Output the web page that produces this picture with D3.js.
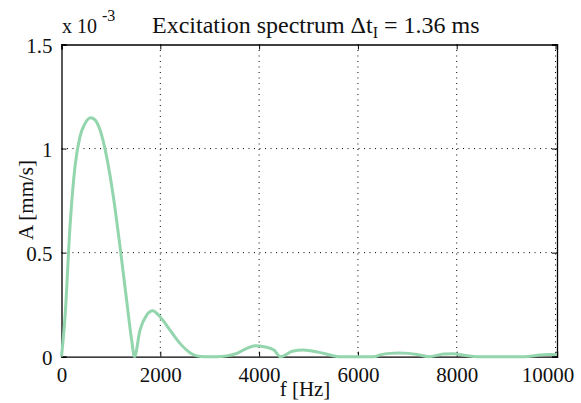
<!DOCTYPE html>
<html><head><meta charset="utf-8">
<script src="https://cdn.jsdelivr.net/npm/d3@7"></script>
</head><body style="margin:0">
<script>
const freqs = [0, 71, 172, 273, 374, 476, 590, 678, 779, 914, 1049, 1184, 1319, 1420, 1478,
  1589, 1724, 1845, 1994, 2196, 2399, 2601, 2736, 2900, 3141, 3350, 3551, 3750, 3925, 4100, 4300, 4430,
  4673, 4897, 5196, 5495, 5600, 6000, 6318, 6467, 6650, 6841, 7030, 7215, 7439, 7738, 7925, 8187, 8411,
  9000, 9383, 9607, 9832, 10030];
const amps = [0, 0.19, 0.625, 0.913, 1.057, 1.12, 1.148, 1.138, 1.09, 0.96, 0.77, 0.53, 0.27, 0.08, 0.0,
  0.128, 0.2, 0.221, 0.192, 0.128, 0.064, 0.019, 0.004, 0.0, 0.0, 0.004, 0.016, 0.04, 0.053, 0.048, 0.032, 0.0,
  0.026, 0.032, 0.022, 0.005, 0.0, 0.0, 0.0, 0.01, 0.016, 0.018, 0.016, 0.01, 0.0, 0.013, 0.014, 0.006, 0.0,
  0.0, 0.0, 0.006, 0.011, 0.01];
const xTicks = [0, 2000, 4000, 6000, 8000, 10000];
const yTicks = [0, 0.5, 1, 1.5];
const yTickLabels = ["0", "0.5", "1", "1.5"];

const W = 581, H = 403;
const L = 61.5, R = 557, T = 44.5, B = 356.7;
const FF = '"Liberation Serif"';

const svg = d3.select("body").append("svg").attr("width", W).attr("height", H)
  .style("font-family", FF).style("display", "block");
const x = d3.scaleLinear().domain([0, 10030]).range([L, R]);
const y = d3.scaleLinear().domain([0, 1.5]).range([B, T]);

// grid
const g = svg.append("g");
g.selectAll(".gx").data(xTicks.filter(d => d > 0 && d < 10030)).join("line")
  .attr("x1", d => x(d)).attr("x2", d => x(d)).attr("y1", T).attr("y2", B)
  .attr("stroke", "#000").attr("stroke-width", 1).attr("stroke-dasharray", "1,4.5");
g.selectAll(".gy").data(yTicks.filter(d => d > 0 && d < 1.5)).join("line")
  .attr("x1", L).attr("x2", R).attr("y1", d => y(d)).attr("y2", d => y(d))
  .attr("stroke", "#000").attr("stroke-width", 1).attr("stroke-dasharray", "1,4.5");

// axes (ticks inward)
const ax = d3.axisBottom(x).tickValues(xTicks).tickSize(-5).tickPadding(10).tickFormat(d3.format("d"));
const axG = svg.append("g").attr("transform", `translate(0,${B})`).call(ax);
const axTop = svg.append("g").attr("transform", `translate(0,${T})`).call(d3.axisTop(x).tickValues(xTicks).tickSize(-5).tickFormat(""));
const ay = d3.axisLeft(y).tickValues(yTicks).tickSize(-5).tickPadding(9).tickFormat((d, i) => yTickLabels[i]);
const ayG = svg.append("g").attr("transform", `translate(${L},0)`).call(ay);
const ayR = svg.append("g").attr("transform", `translate(${R},0)`).call(d3.axisRight(y).tickValues(yTicks).tickSize(-5).tickFormat(""));
[axG, axTop, ayG, ayR].forEach(a => {
  a.attr("font-family", null).attr("font-size", null);
  a.select(".domain").attr("stroke", "#000").attr("stroke-width", 1.3);
  a.selectAll(".tick line").attr("stroke", "#000");
  a.selectAll("text").style("font-family", FF).style("font-size", "21px").attr("fill", "#111");
});
axG.selectAll(".tick text").attr("dy", "0.71em");
ayG.selectAll(".tick text").attr("dy", "0.36em");
axG.selectAll(".tick text").filter(d => d === 10000).attr("dx", -8);

// curve (drawn over the axes, as in the reference)
const line = d3.line().x((d, i) => x(freqs[i])).y(d => y(d)).curve(d3.curveMonotoneX);
svg.append("path").datum(amps).attr("d", line)
  .attr("fill", "none").attr("stroke", "#93d5ad").attr("stroke-width", 3)
  .attr("stroke-linejoin", "round");

function txt(sel) { return sel.style("font-family", FF).attr("fill", "#111"); }

// labels
txt(svg.append("text")).attr("x", 305).attr("y", 396).attr("text-anchor", "middle")
  .style("font-size", "21px").text("f [Hz]");
txt(svg.append("text")).attr("transform", `translate(33,200) rotate(-90)`).attr("text-anchor", "middle")
  .style("font-size", "21px").text("A [mm/s]");

const ex = txt(svg.append("text")).attr("x", 62).attr("y", 33).style("font-size", "20px");
ex.append("tspan").text("x 10");
ex.append("tspan").attr("dx", 5).attr("dy", -12).style("font-size", "16px").text("-3");

const title = txt(svg.append("text")).attr("x", 152).attr("y", 33).style("font-size", "24px");
title.append("tspan").text("Excitation spectrum \u0394t");
title.append("tspan").attr("dy", 5).style("font-size", "16px").text("I");
title.append("tspan").attr("dy", -5).text(" = 1.36 ms");
</script>
</body></html>
